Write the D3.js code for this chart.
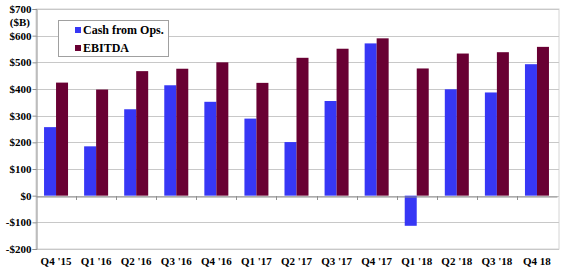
<!DOCTYPE html>
<html><head><meta charset="utf-8">
<script src="https://cdn.jsdelivr.net/npm/d3@7"></script>
<style>body{margin:0;background:#fff}svg{display:block}text{font-family:"Liberation Serif","Times New Roman",serif;font-weight:bold;fill:#000}</style>
</head><body><svg id="c" width="564" height="274"></svg>
<script>
const categories = ["Q4 '15","Q1 '16","Q2 '16","Q3 '16","Q4 '16","Q1 '17","Q2 '17","Q3 '17","Q4 '17","Q1 '18","Q2 '18","Q3 '18","Q4 18"];
const cashFromOps = [257,185,324,414,352,289,201,355,571,-113,399,387,493];
const ebitda = [424,398,467,476,500,423,517,551,590,477,533,538,558];
const seriesNames = ["Cash from Ops.","EBITDA"];
const seriesColors = ["#3737f5","#690033"];
const yTicks = [-200,-100,0,100,200,300,400,500,600,700];

const svg = d3.select("#c");
const L = 36, R = 557, T = 9, B = 249;
const x = d3.scaleBand().domain(categories).range([L, R]).paddingInner(0).paddingOuter(0);
const y = d3.scaleLinear().domain([-200,700]).range([B, T]);
const inner = d3.scaleBand().domain([0,1]).range([0, x.bandwidth()]).paddingOuter(0.67).paddingInner(0);

// frame
svg.append("rect").attr("x",L).attr("y",T).attr("width",R-L+2).attr("height",B-T)
  .attr("fill","none").attr("stroke","#d4d4d4").attr("stroke-width",1);
// gridlines
svg.append("g").selectAll("line").data(yTicks).join("line")
  .attr("x1",L).attr("x2",R+2).attr("y1",d=>Math.round(y(d))+0.5).attr("y2",d=>Math.round(y(d))+0.5)
  .attr("stroke","#c8c8c8").attr("stroke-width",1);

// y axis
const yAxis = d3.axisLeft(y).tickValues(yTicks).tickSize(4).tickFormat(d=> d<0 ? "-$"+(-d) : "$"+d);
const gy = svg.append("g").attr("transform",`translate(${L+0.5},0)`).call(yAxis);
gy.select(".domain").attr("stroke","#909090");
gy.selectAll(".tick line").attr("stroke","#909090");
gy.selectAll("text").style("font-size","11px").attr("x",-5);
svg.append("text").attr("x",30).attr("y",26).attr("text-anchor","end").style("font-size","11px").text("($B)");

// bars
const data = categories.map((c,i)=>({c, v:[cashFromOps[i], ebitda[i]]}));
const g = svg.append("g");
data.forEach(d=>{
  d.v.forEach((v,k)=>{
    g.append("rect")
      .attr("x", x(d.c)+inner(k))
      .attr("width", inner.bandwidth())
      .attr("y", y(Math.max(0,v)))
      .attr("height", Math.abs(y(v)-y(0)))
      .attr("fill", seriesColors[k]);
  });
});

// x axis at zero
const xAxis = d3.axisBottom(x).tickSize(0).tickFormat("");
const gx = svg.append("g").attr("transform",`translate(0,${Math.round(y(0))+0.5})`).call(xAxis);
gx.select(".domain").attr("stroke","#909090");
gx.selectAll(".tick").remove();
svg.append("g").selectAll("line").data(categories.slice(1)).join("line")
  .attr("x1",d=>Math.round(x(d))+0.5).attr("x2",d=>Math.round(x(d))+0.5)
  .attr("y1",Math.round(y(0))).attr("y2",Math.round(y(0))+4).attr("stroke","#909090");
// category labels
svg.append("g").selectAll("text").data(categories).join("text")
  .attr("x",d=>x(d)+x.bandwidth()/2).attr("y",265).attr("text-anchor","middle")
  .style("font-size","11px").text(d=>d);

// legend
const lg = svg.append("g");
lg.append("rect").attr("x",58.5).attr("y",20.5).attr("width",110).attr("height",36)
  .attr("fill","#fff").attr("stroke","#a0a0a0");
seriesNames.forEach((n,k)=>{
  lg.append("rect").attr("x",75).attr("y",27+k*18).attr("width",6).attr("height",6).attr("fill",seriesColors[k]);
  lg.append("text").attr("x",83).attr("y",34+k*18).style("font-size","12px").text(n);
});
</script></body></html>
